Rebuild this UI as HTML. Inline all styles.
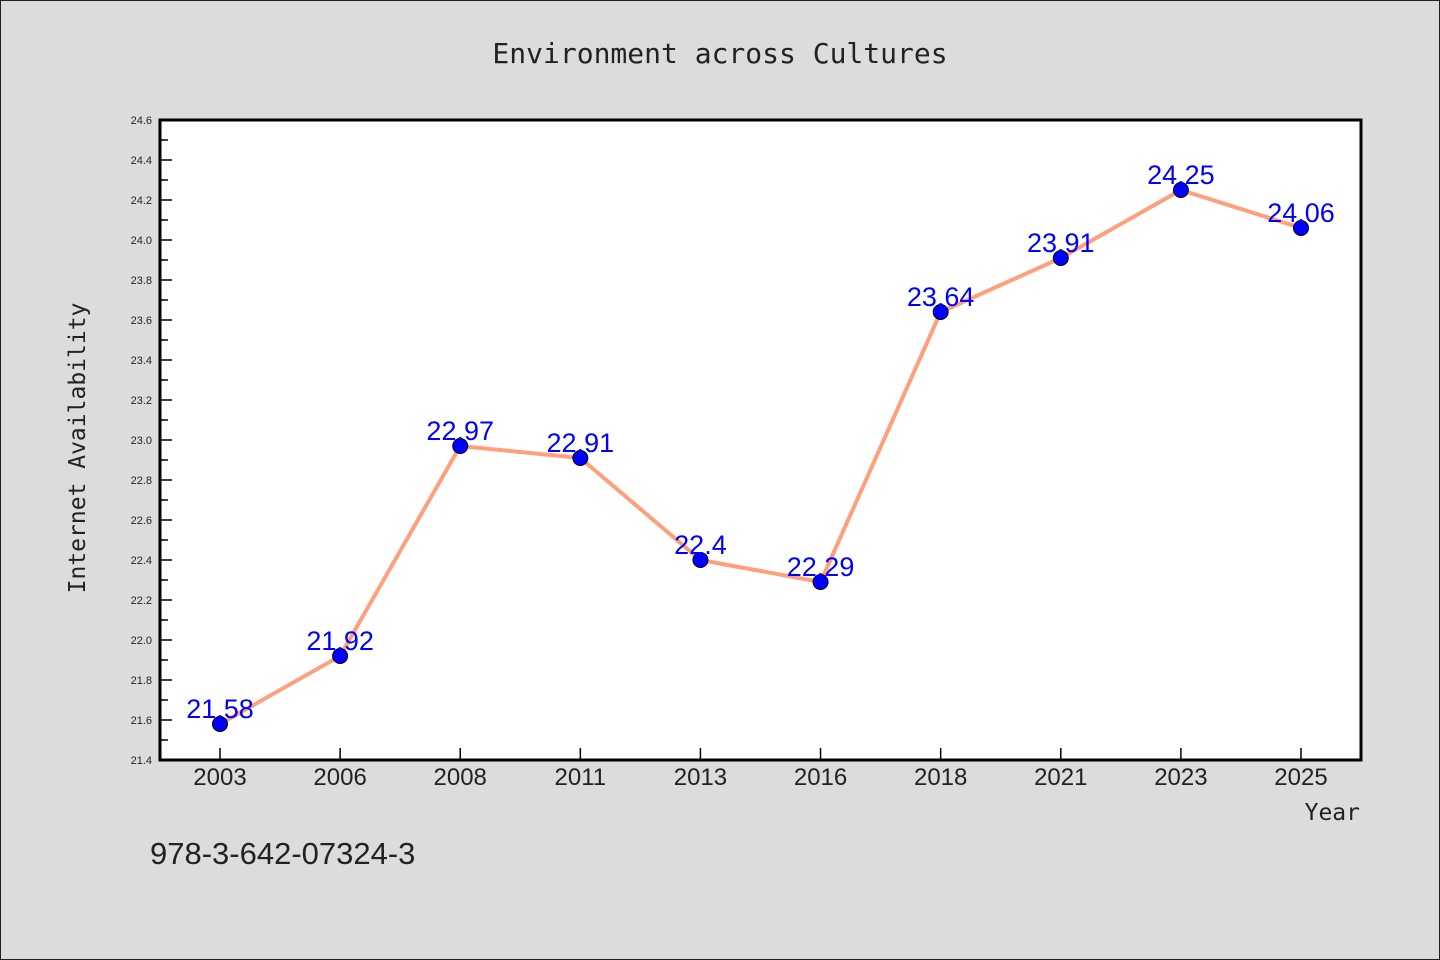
<!DOCTYPE html>
<html><head><meta charset="utf-8"><style>
body{margin:0;background:#dcdcdc;}
svg{display:block;}
</style></head><body>
<svg width="1440" height="960" xmlns="http://www.w3.org/2000/svg">
<rect x="0.5" y="0.5" width="1439" height="959" fill="#dcdcdc" stroke="#222"/>
<text x="720" y="63" text-anchor="middle" font-family="'DejaVu Sans Mono','Liberation Mono',monospace" font-size="28" fill="#222">Environment across Cultures</text>
<rect x="160" y="120" width="1201" height="640" fill="#fff"/>
<g id="axes"></g>
<g id="series"></g>
<rect x="160" y="120" width="1201" height="640" fill="none" stroke="#000" stroke-width="3"/>
<text transform="translate(85,448) rotate(-90)" text-anchor="middle" font-family="'DejaVu Sans Mono','Liberation Mono',monospace" font-size="23" fill="#222">Internet Availability</text>
<text x="1360" y="820" text-anchor="end" font-family="'DejaVu Sans Mono','Liberation Mono',monospace" font-size="23" fill="#222">Year</text>
<text x="150" y="864" font-family="'Liberation Sans','WenQuanYi Zen Hei',sans-serif" font-size="31" fill="#222">978-3-642-07324-3</text>
</svg>
<script>
const categories=["2003","2006","2008","2011","2013","2016","2018","2021","2023","2025"];
const values=[21.58,21.92,22.97,22.91,22.4,22.29,23.64,23.91,24.25,24.06];
const yTicks=["21.4","21.6","21.8","22.0","22.2","22.4","22.6","22.8","23.0","23.2","23.4","23.6","23.8","24.0","24.2","24.4","24.6"];
const yMin=21.4,yMax=24.6;
const NS="http://www.w3.org/2000/svg";
const L=160,R=1361,T=120,B=760;
const x=i=>220+i*(R-L-120)/(categories.length-1);
const y=v=>B-(v-yMin)/(yMax-yMin)*(B-T);
function mk(tag,attrs,parent){const e=document.createElementNS(NS,tag);for(const k in attrs)e.setAttribute(k,attrs[k]);parent.appendChild(e);return e;}
const ax=document.getElementById('axes'),se=document.getElementById('series');
yTicks.forEach((t,i)=>{
 const v=parseFloat(t),yy=y(v);
 const ln=mk('line',{x1:L,x2:L+12,y1:yy,y2:yy,stroke:'#000','stroke-width':1.5},ax);
 
 
 const tx=mk('text',{x:L-8,y:yy+4,'text-anchor':'end','font-family':'Liberation Sans,sans-serif','font-size':11,fill:'#222'},ax);
 tx.textContent=t;
 
 
 if(i<yTicks.length-1){const ym=y(v+0.1);
  const mn=mk('line',{x1:L,x2:L+8,y1:ym,y2:ym,stroke:'#000','stroke-width':1.5},ax);
  
  }
});
categories.forEach((c,i)=>{
 const xx=x(i);
 const ln=mk('line',{x1:xx,x2:xx,y1:B,y2:B-12,stroke:'#000','stroke-width':1.5},ax);
 
 
 const tx=mk('text',{x:xx,y:785,'text-anchor':'middle','font-family':'Liberation Sans,sans-serif','font-size':24,fill:'#222'},ax);
 tx.textContent=c;
 
 
});
const pl=mk('polyline',{points:values.map((v,i)=>x(i)+','+y(v)).join(' '),fill:'none',stroke:'#FFA07A','stroke-width':4,'stroke-linejoin':'round'},se);


values.forEach((v,i)=>{
 const c=mk('circle',{cx:x(i),cy:y(v),r:7.5,fill:'#0000ff',stroke:'#000','stroke-width':1},se);
 
 
});
values.forEach((v,i)=>{
 const t=mk('text',{x:x(i),y:y(v)-6,'text-anchor':'middle','font-family':'Liberation Sans,sans-serif','font-size':27,fill:'#0000ff'},se);
 t.textContent=String(v);
 
 
});
</script>
</body></html>
